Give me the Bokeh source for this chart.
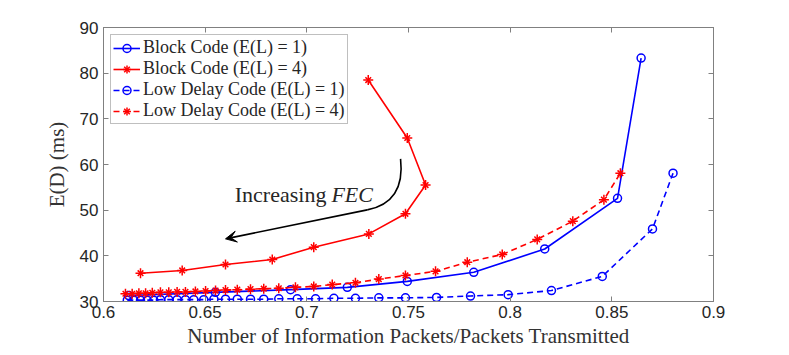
from bokeh.plotting import figure
from bokeh.models import (LinearAxis, Legend, LegendItem, Label, Arrow, VeeHead,
                          Range1d, FixedTicker)
from bokeh.embed import file_html
from bokeh.resources import INLINE

# ---------------- data ----------------
x_ticks = [0.6, 0.65, 0.7, 0.75, 0.8, 0.85, 0.9]
x_tick_labels = ["0.6", "0.65", "0.7", "0.75", "0.8", "0.85", "0.9"]
y_ticks = [30, 40, 50, 60, 70, 80, 90]
y_tick_labels = ["30", "40", "50", "60", "70", "80", "90"]

block1_x = [0.6124, 0.655, 0.692, 0.7199, 0.7494, 0.7821, 0.8170, 0.8528, 0.8644]
block1_y = [31.3, 32.0, 32.6, 33.1, 34.4, 36.4, 41.5, 52.6, 83.3]

block4_x = [0.6182, 0.6387, 0.6600, 0.6830, 0.7034, 0.7305, 0.7485, 0.7584, 0.7494, 0.7302]
block4_y = [36.2, 36.8, 38.1, 39.2, 41.9, 44.8, 49.2, 55.5, 65.8, 78.5]

low1_x = [0.6117, 0.6149, 0.6182, 0.6215, 0.6247, 0.6280, 0.6321, 0.6362, 0.6403, 0.6444,
          0.6493, 0.6543, 0.6600, 0.6658, 0.6723, 0.6788, 0.6862, 0.6953, 0.7043, 0.7133,
          0.7239, 0.7354, 0.7485, 0.7638, 0.7805, 0.7990, 0.8203, 0.8453, 0.8700, 0.8801]
low1_y = [30.3, 30.3, 30.3, 30.3, 30.3, 30.4, 30.4, 30.4, 30.4, 30.4,
          30.4, 30.5, 30.5, 30.5, 30.5, 30.5, 30.6, 30.6, 30.6, 30.7,
          30.7, 30.8, 30.8, 30.9, 31.2, 31.5, 32.4, 35.5, 45.9, 58.1]

low4_x = [0.6108, 0.6141, 0.6174, 0.6207, 0.6240, 0.6280, 0.6321, 0.6362, 0.6403, 0.6452,
          0.6502, 0.6551, 0.6600, 0.6658, 0.6723, 0.6788, 0.6862, 0.6944, 0.7034, 0.7125,
          0.7239, 0.7354, 0.7485, 0.7633, 0.7789, 0.7961, 0.8133, 0.8308, 0.8461, 0.8542]
low4_y = [31.7, 31.7, 31.8, 31.8, 31.9, 32.0, 32.0, 32.1, 32.1, 32.2,
          32.3, 32.4, 32.5, 32.6, 32.7, 32.8, 32.9, 33.1, 33.3, 33.7,
          34.1, 34.9, 35.7, 36.6, 38.6, 40.3, 43.6, 47.6, 52.3, 58.1]

labels = ["Block Code (E(L) = 1)", "Block Code (E(L) = 4)",
          "Low Delay Code (E(L) = 1)", "Low Delay Code (E(L) = 4)"]

# annotation anchor points (data units)
arrow_start = (0.7461, 61.25)
arrow_ctrl = (0.7485, 51.74)
arrow_bend = (0.7297, 50.07)
arrow_tip = (0.6600, 43.72)
text_split = (0.7111, 53.4)

BLUE = "#0000FF"
RED = "#FF0000"
AXIS_GRAY = "#808080"
TEXT_DARK = "#262626"
SERIF = "Liberation Serif"
SANS = "Liberation Sans"

p = figure(width=789, height=355, output_backend="svg", toolbar_location=None,
           x_range=Range1d(0.6, 0.9), y_range=Range1d(30, 90),
           min_border_left=103, min_border_right=76, min_border_top=27,
           min_border_bottom=54, x_axis_location=None, y_axis_location=None)
p.grid.visible = False
p.outline_line_color = AXIS_GRAY
p.outline_line_width = 1
p.background_fill_color = "white"
p.border_fill_color = "white"


def style_axis(ax, ticks, tick_labels, show_labels):
    ax.ticker = FixedTicker(ticks=ticks)
    ax.major_label_overrides = dict(zip(ticks, tick_labels))
    ax.axis_line_color = AXIS_GRAY
    ax.major_tick_line_color = AXIS_GRAY
    ax.major_tick_in = 5
    ax.major_tick_out = 0
    ax.minor_tick_line_color = None
    ax.major_label_text_font = SANS
    ax.major_label_text_font_size = "17px"
    if show_labels:
        ax.major_label_text_color = TEXT_DARK
    else:
        ax.major_label_text_color = None


xb = LinearAxis(axis_label="Number of Information Packets/Packets Transmitted")
style_axis(xb, x_ticks, x_tick_labels, True)
xb.major_label_standoff = 4
xb.axis_label_standoff = 3
xb.axis_label_text_font = SERIF
xb.axis_label_text_font_style = "normal"
xb.axis_label_text_font_size = "21px"
xb.axis_label_text_color = "#333333"
p.add_layout(xb, "below")

yl = LinearAxis(axis_label="E(D) (ms)")
style_axis(yl, y_ticks, y_tick_labels, True)
yl.major_label_standoff = 5
yl.axis_label_standoff = 8
yl.axis_label_text_font = SERIF
yl.axis_label_text_font_style = "normal"
yl.axis_label_text_font_size = "21px"
yl.axis_label_text_color = "#333333"
p.add_layout(yl, "left")

xt = LinearAxis()
style_axis(xt, x_ticks, x_tick_labels, False)
p.add_layout(xt, "above")
yr = LinearAxis()
style_axis(yr, y_ticks, y_tick_labels, False)
p.add_layout(yr, "right")

LW = 1.6

# Block code E(L)=1
l1 = p.line(block1_x, block1_y, line_color=BLUE, line_width=LW)
m1 = p.scatter(block1_x, block1_y, marker="circle", size=8, fill_color=None,
               line_color=BLUE, line_width=1.5)
# Block code E(L)=4
l2 = p.line(block4_x, block4_y, line_color=RED, line_width=LW)
m2a = p.scatter(block4_x, block4_y, marker="cross", size=10, line_color=RED, line_width=1.5)
m2b = p.scatter(block4_x, block4_y, marker="x", size=8, line_color=RED, line_width=1.5)
# Low delay E(L)=1
l3 = p.line(low1_x, low1_y, line_color=BLUE, line_width=LW, line_dash="6 4")
m3 = p.scatter(low1_x, low1_y, marker="circle", size=8, fill_color=None,
               line_color=BLUE, line_width=1.5)
# Low delay E(L)=4
l4 = p.line(low4_x, low4_y, line_color=RED, line_width=LW, line_dash="6 4")
m4a = p.scatter(low4_x, low4_y, marker="cross", size=10, line_color=RED, line_width=1.5)
m4b = p.scatter(low4_x, low4_y, marker="x", size=8, line_color=RED, line_width=1.5)

legend = Legend(items=[
    LegendItem(label=labels[0], renderers=[l1, m1]),
    LegendItem(label=labels[1], renderers=[l2, m2a, m2b]),
    LegendItem(label=labels[2], renderers=[l3, m3]),
    LegendItem(label=labels[3], renderers=[l4, m4a, m4b]),
], location="top_left")
legend.margin = 7
legend.padding = 2
legend.spacing = 0
legend.label_height = 20
legend.glyph_height = 20
legend.glyph_width = 27
legend.label_standoff = 3
legend.border_line_color = AXIS_GRAY
legend.border_line_width = 1
legend.background_fill_alpha = 1
legend.label_text_font = SERIF
legend.label_text_font_size = "18px"
legend.label_text_color = TEXT_DARK
p.add_layout(legend)

# Annotation: curved arrow and text
p.quadratic(x0=[arrow_start[0]], y0=[arrow_start[1]], x1=[arrow_bend[0]], y1=[arrow_bend[1]],
            cx=[arrow_ctrl[0]], cy=[arrow_ctrl[1]], line_color="black", line_width=1.6)
p.add_layout(Arrow(x_start=arrow_bend[0], y_start=arrow_bend[1],
                   x_end=arrow_tip[0], y_end=arrow_tip[1],
                   line_color="black", line_width=1.6,
                   end=VeeHead(size=11, fill_color="black", line_color="black")))
p.add_layout(Label(x=text_split[0], y=text_split[1], text="Increasing",
                   text_align="right", text_baseline="alphabetic",
                   text_font=SERIF, text_font_size="22px", text_color=TEXT_DARK,
                   x_offset=-3))
p.add_layout(Label(x=text_split[0], y=text_split[1], text="FEC",
                   text_align="left", text_baseline="alphabetic",
                   text_font=SERIF, text_font_style="italic", text_font_size="22px",
                   text_color=TEXT_DARK, x_offset=2))

open("out.html", "w").write(file_html(p, INLINE))
